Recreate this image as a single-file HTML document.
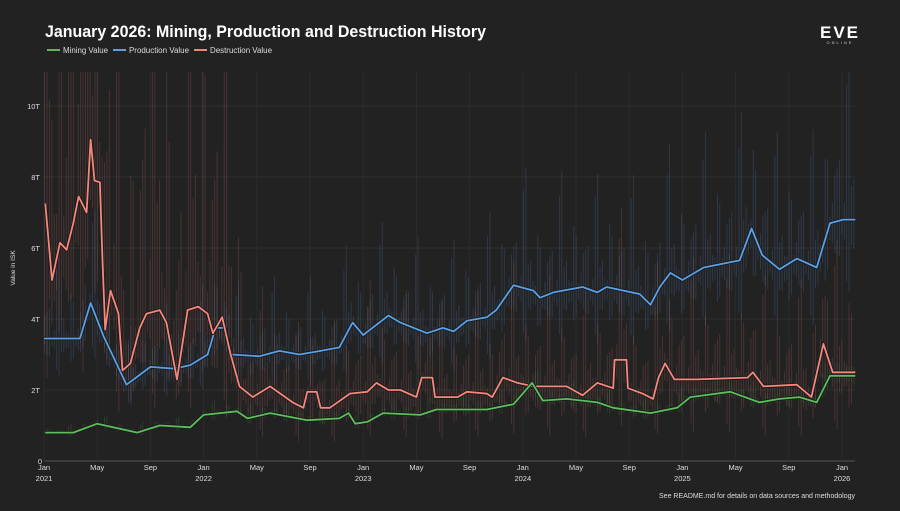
<!DOCTYPE html>
<html><head><meta charset="utf-8"><style>
html,body{margin:0;padding:0;background:#222222;}
body{width:900px;height:506px;overflow:hidden;font-family:"Liberation Sans",sans-serif;}
</style></head><body>
<svg id="chart" width="900" height="506" xmlns="http://www.w3.org/2000/svg">
<rect width="900" height="506" fill="#222222"/>
<text x="45" y="37" fill="#ffffff" font-size="17" font-weight="bold" font-family="Liberation Sans, sans-serif" textLength="441" lengthAdjust="spacingAndGlyphs">January 2026: Mining, Production and Destruction History</text>
<g font-size="8" fill="#dddddd">
 <g><line x1="47" y1="50" x2="60" y2="50" stroke="#5cb85c" stroke-width="2"/><text x="63" y="53" textLength="45" lengthAdjust="spacingAndGlyphs">Mining Value</text></g>
 <g><line x1="113" y1="50" x2="126" y2="50" stroke="#5aa0e8" stroke-width="2"/><text x="129" y="53" textLength="60" lengthAdjust="spacingAndGlyphs">Production Value</text></g>
 <g><line x1="194" y1="50" x2="207" y2="50" stroke="#f0857a" stroke-width="2"/><text x="210" y="53" textLength="62" lengthAdjust="spacingAndGlyphs">Destruction Value</text></g>
</g>
<g>
 <text x="840" y="38" text-anchor="middle" fill="#ffffff" font-size="17" font-weight="bold" letter-spacing="2">EVE</text>
 <text x="840" y="44" text-anchor="middle" fill="#cccccc" font-size="4" letter-spacing="2">ONLINE</text>
</g>
<text transform="translate(15,268) rotate(-90)" text-anchor="middle" fill="#dddddd" font-size="6.5">Value in ISK</text>
<g id="grid"></g>
<g id="spikes"></g>
<g id="lines"></g>
<g id="axes"></g>
<text x="855" y="498" text-anchor="end" fill="#dddddd" font-size="7.5" textLength="196" lengthAdjust="spacingAndGlyphs">See README.md for details on data sources and methodology</text>
</svg>
<script>
// months since Jan 2021 and values in trillions ISK
const prodMonths = [0,2.7,3.5,4.5,6.2,8,9.8,11,12.3,12.9,13.6,14.1,16.2,17.7,19.2,20.8,22.2,23.2,24,25.9,26.8,28.8,30,30.8,31.8,33.3,34,35.3,36.8,37.3,38.3,40.5,41.6,42.3,44.8,45.6,46.3,47.1,48,49.6,52.3,53.2,54,55.3,56.6,58.1,59.1,60.1,61];
const prodValues = [3.45,3.45,4.45,3.5,2.15,2.65,2.6,2.7,3.0,3.75,3.75,3.0,2.95,3.1,3.0,3.1,3.2,3.9,3.55,4.1,3.9,3.6,3.75,3.65,3.95,4.05,4.25,4.95,4.8,4.6,4.75,4.9,4.75,4.9,4.7,4.4,4.9,5.3,5.1,5.45,5.65,6.55,5.8,5.4,5.7,5.45,6.7,6.8,6.8];
const destMonths = [0.1,0.6,1.2,1.7,2.2,2.6,3.2,3.5,3.8,4.2,4.4,4.6,5.0,5.6,5.9,6.5,7.2,7.7,8.7,9.2,10.0,10.8,11.6,12.3,12.7,13.4,14.0,14.7,15.7,17.0,18.7,19.5,19.8,20.5,20.8,21.5,23.0,24.3,25.0,25.9,26.8,28.0,28.4,29.2,29.4,31.1,31.8,33.3,33.7,34.5,35.6,36.8,39.3,40.5,41.6,42.8,42.9,43.8,43.9,45.0,45.8,46.2,46.7,47.4,49.1,52.9,53.3,54.1,56.6,57.7,58.6,59.3,61.0];
const destValues = [7.25,5.1,6.15,5.95,6.7,7.45,7.0,9.05,7.9,7.85,5.65,3.7,4.8,4.15,2.55,2.75,3.75,4.15,4.25,3.9,2.3,4.25,4.35,4.15,3.6,4.05,3.05,2.1,1.8,2.1,1.65,1.5,1.95,1.95,1.5,1.5,1.9,1.95,2.2,2.0,2.0,1.8,2.35,2.35,1.8,1.8,1.95,1.9,1.8,2.35,2.2,2.1,2.1,1.85,2.2,2.05,2.85,2.85,2.05,1.9,1.75,2.35,2.75,2.3,2.3,2.35,2.5,2.1,2.15,1.8,3.3,2.5,2.5];
const mineMonths = [0.1,2.2,4.0,7.0,8.7,11.0,12.0,14.5,15.3,17.0,19.8,22.2,22.9,23.4,24.3,25.5,28.3,29.5,33.3,35.3,36.7,37.5,39.3,41.6,42.8,45.6,47.6,48.6,51.6,53.8,55.3,56.8,58.1,59.1,61.0];
const mineValues = [0.8,0.8,1.05,0.8,1.0,0.95,1.3,1.4,1.2,1.35,1.15,1.2,1.35,1.05,1.1,1.35,1.3,1.45,1.45,1.6,2.2,1.7,1.75,1.65,1.5,1.35,1.5,1.8,1.95,1.65,1.75,1.8,1.65,2.4,2.4];
const yTicks = [0,2,4,6,8,10];
const yTickLabels = ["0","2T","4T","6T","8T","10T"];
const xTickMonths = [0,4,8,12,16,20,24,28,32,36,40,44,48,52,56,60];
const xTickLabels = ["Jan","May","Sep","Jan","May","Sep","Jan","May","Sep","Jan","May","Sep","Jan","May","Sep","Jan"];
const xYearLabels = ["2021","","","2022","","","2023","","","2024","","","2025","","","2026"];
// daily variability multipliers (cycled) for faint spikes
const spikePattern = [1.3,0.7,1.9,0.8,1.1,2.6,0.6,1.4,0.9,1.7,0.75,1.2,3.1,0.85,1.5];

const NS="http://www.w3.org/2000/svg";
const X0=44, PXM=13.3, Y0=461, PXT=35.5, TOP=72, RIGHT=855;
const xs=m=>X0+m*PXM, ys=v=>Math.max(TOP,Y0-v*PXT);
function interp(ms,vs,m){if(m<=ms[0])return vs[0];for(let i=1;i<ms.length;i++){if(m<=ms[i]){const f=(m-ms[i-1])/(ms[i]-ms[i-1]);return vs[i-1]+f*(vs[i]-vs[i-1]);}}return vs[vs.length-1];}
function mk(t,p,a){const e=document.createElementNS(NS,t);for(const k in a)e.setAttribute(k,a[k]);p.appendChild(e);return e;}
const grid=document.getElementById('grid'),axes=document.getElementById('axes'),sp=document.getElementById('spikes'),ln=document.getElementById('lines');
yTicks.forEach((v,i)=>{
 const g=mk('line',grid,{x1:X0,x2:RIGHT,y1:ys(v),y2:ys(v),stroke:i===0?'#555':'#2f2f2f','stroke-width':1});
 
 
 const t=mk('text',axes,{x:i===0?42:40,y:ys(v)+3,'text-anchor':'end',fill:'#dddddd','font-size':7.5});
 t.textContent=yTickLabels[i];
 
 
});
xTickMonths.forEach((m,i)=>{
 const g=mk('line',grid,{x1:xs(m),x2:xs(m),y1:TOP,y2:Y0,stroke:'#2c2c2c','stroke-width':1});
 
 
 const t=mk('text',axes,{x:xs(m),y:470,'text-anchor':'middle',fill:'#dddddd','font-size':7.5});
 t.textContent=xTickLabels[i];
 
 
 if(xYearLabels[i]){const y=mk('text',axes,{x:xs(m),y:481,'text-anchor':'middle',fill:'#dddddd','font-size':7.5});
 y.textContent=xYearLabels[i];
 
 }
});
const series=[
 {n:'production',ms:prodMonths,vs:prodValues,c:'#5a90d0',amp:0.28,o:0.24,line:'#5aa0e8'},
 {n:'destruction',ms:destMonths,vs:destValues,c:'#e07a70',amp:0.6,o:0.22,line:'#f5877c'},
 {n:'mining',ms:mineMonths,vs:mineValues,c:'#4a9a4a',amp:0.12,o:0.25,line:'#5cbf5c'}];
series.forEach((s,si)=>{
 let k=si*5;
 for(let m=0.05;m<=61;m+=0.18){
  const v=interp(s.ms,s.vs,m);const p=spikePattern[k%spikePattern.length];k+=7;
  const boost=(s.n==='destruction'&&m<15)?2.4:1;
  const hi=v*(1+s.amp*boost*(p-0.6)), lo=v*(1-s.amp*0.35*p);
  const l=mk('line',sp,{x1:xs(m),x2:xs(m),y1:ys(Math.max(hi,v)),y2:ys(Math.max(0,lo)),stroke:s.c,'stroke-opacity':s.o,'stroke-width':0.9});
  
  
 }
});
series.forEach(s=>{
 const d=s.ms.map((m,i)=>(i?'L':'M')+xs(m).toFixed(1)+','+ys(s.vs[i]).toFixed(1)).join('');
 mk('path',ln,{d:d,fill:'none',stroke:'#1a1a1a','stroke-width':3.5,'stroke-linejoin':'round'});
 const p=mk('path',ln,{d:d,fill:'none',stroke:s.line,'stroke-width':1.8,'stroke-linejoin':'round'});
 
 
});
</script>
</body></html>
